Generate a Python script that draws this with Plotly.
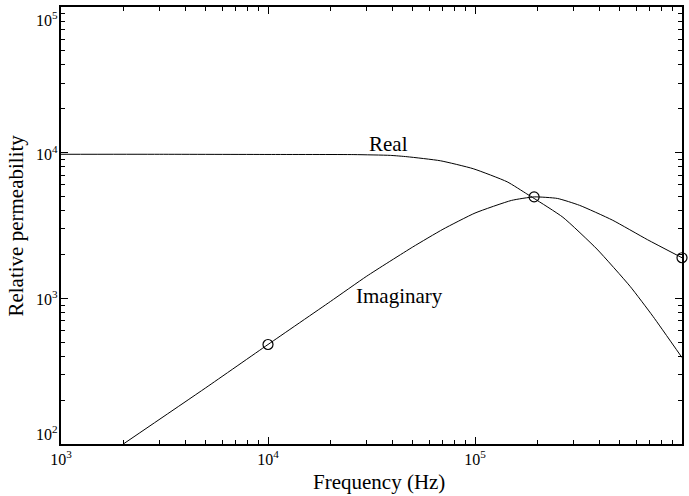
import math
import plotly.graph_objects as go

# ---- data ----
real_freq = [1e3, 3e3, 1e4, 2.6e4, 3.9e4, 4.7e4, 6.8e4, 9.8e4, 1.43e5, 1.78e5,
             1.93e5, 2.66e5, 3.88e5, 5.61e5, 7.24e5, 1e6]
real_vals = [9750, 9750, 9720, 9700, 9580, 9380, 8800, 7760, 6310, 5210,
             4850, 3600, 2180, 1210, 752, 392]

imag_freq = [2e3, 5e3, 1e4, 2e4, 3e4, 5e4, 7e4, 1e5, 1.5e5, 1.93e5, 2.5e5,
             3.2e5, 4.6e5, 6.8e5, 1e6]
imag_vals = [100, 243, 482, 950, 1420, 2250, 2980, 3850, 4700, 4970, 4850,
             4350, 3450, 2530, 1900]

mark_freq = [1e3, 1e4, 1.93e5, 1e6]
mark_vals = [9750, 482, 4970, 1900]

x_tickvals = [1e3, 1e4, 1e5, 1e6]
x_ticktext = ["10<sup>3</sup>", "10<sup>4</sup>", "10<sup>5</sup>", "10<sup>6</sup>"]
y_tickvals = [1e2, 1e3, 1e4, 1e5]
y_ticktext = ["10<sup>2</sup>", "10<sup>3</sup>", "10<sup>4</sup>", "10<sup>5</sup>"]

x_title = "Frequency (Hz)"
y_title = "Relative permeability"
label_real = ("Real", 3.8e4, 1.15e4)
label_imag = ("Imaginary", 4.3e4, 1030)

FONT = "Liberation Serif, Times New Roman, serif"


def minor_vals(lo, hi):
    out = []
    for d in range(lo, hi):
        for m in range(2, 10):
            out.append(m * 10 ** d)
    return out


fig = go.Figure()
fig.add_trace(go.Scatter(x=real_freq, y=real_vals, mode="lines",
                         line=dict(color="black", width=1, shape="spline", smoothing=0.5),
                         showlegend=False, hoverinfo="skip"))
fig.add_trace(go.Scatter(x=imag_freq, y=imag_vals, mode="lines",
                         line=dict(color="black", width=1, shape="spline", smoothing=0.5),
                         showlegend=False, hoverinfo="skip"))
fig.add_trace(go.Scatter(x=mark_freq, y=mark_vals, mode="markers",
                         marker=dict(symbol="circle-open", size=10,
                                     line=dict(color="black", width=1.2), color="black"),
                         showlegend=False, cliponaxis=False, hoverinfo="skip"))
# invisible trace to activate mirrored axes (top / right)
fig.add_trace(go.Scatter(x=[], y=[], xaxis="x2", yaxis="y2", showlegend=False,
                         hoverinfo="skip"))

common = dict(type="log", showgrid=False, zeroline=False,
              showline=True, linecolor="black", linewidth=1.5,
              ticks="inside", ticklen=7, tickwidth=1, tickcolor="black",
              tickfont=dict(family=FONT, size=16, color="black"))

xminor = dict(ticks="inside", ticklen=4, tickcolor="black",
              tickvals=minor_vals(3, 6), showgrid=False)
yminor = dict(ticks="inside", ticklen=4, tickcolor="black",
              tickvals=minor_vals(2, 5), showgrid=False)

fig.update_layout(
    xaxis=dict(range=[3, 6], tickvals=x_tickvals, ticktext=x_ticktext,
               minor=xminor, **common),
    yaxis=dict(range=[2, 5], tickvals=y_tickvals, showticklabels=False,
               minor=yminor, **common),
    xaxis2=dict(range=[3, 6], tickvals=x_tickvals, showticklabels=False,
                overlaying="x", side="top", anchor="y", minor=xminor, **common),
    yaxis2=dict(range=[2, 5], tickvals=y_tickvals, showticklabels=False,
                overlaying="y", side="right", anchor="x", minor=yminor, **common),
)

annotations = []
yshifts = [11, 0, 0, -12]
for v, t, s in zip(y_tickvals, y_ticktext, yshifts):
    annotations.append(dict(x=0, xref="paper", y=math.log10(v), yref="y",
                            text=t, showarrow=False, xanchor="right",
                            yanchor="middle", xshift=-1, yshift=s,
                            font=dict(family=FONT, size=16, color="black")))
annotations.append(dict(x=0.512, xref="paper", y=-0.087, yref="paper",
                        text=x_title, showarrow=False, xanchor="center",
                        yanchor="middle",
                        font=dict(family=FONT, size=21, color="black")))
annotations.append(dict(x=-0.074, xref="paper", y=0.5, yref="paper",
                        text=y_title, showarrow=False, textangle=-90,
                        xanchor="center", yanchor="middle",
                        font=dict(family=FONT, size=21, color="black")))
for txt, fx, fy in (label_real, label_imag):
    annotations.append(dict(x=math.log10(fx), xref="x", y=math.log10(fy), yref="y",
                            text=txt, showarrow=False, xanchor="center",
                            yanchor="middle",
                            font=dict(family=FONT, size=21, color="black")))

fig.update_layout(width=689, height=496,
                  margin=dict(l=61, r=7, t=7, b=52),
                  paper_bgcolor="white", plot_bgcolor="white",
                  annotations=annotations)

fig.write_html("out.html")
